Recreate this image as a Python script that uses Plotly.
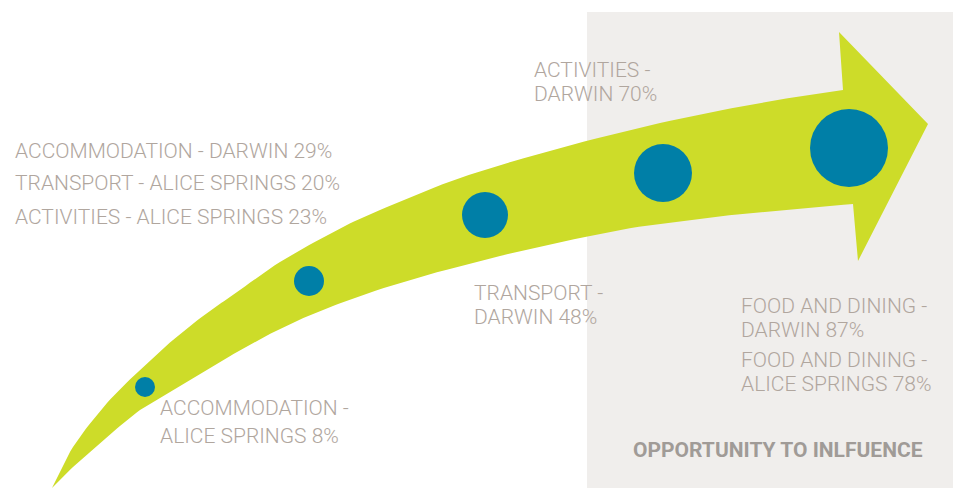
import numpy as np
import plotly.graph_objects as go

# ---- data ----
stage_x = [145, 309, 485, 663, 849]
stage_y = [387, 281, 215, 173, 148]
stage_size = [20, 30, 46, 58, 78]

label_lines = [
    "ACCOMMODATION - DARWIN 29%",
    "TRANSPORT - ALICE SPRINGS 20%",
    "ACTIVITIES - ALICE SPRINGS 23%",
    "ACCOMMODATION -",
    "ALICE SPRINGS 8%",
    "TRANSPORT -",
    "DARWIN 48%",
    "ACTIVITIES -",
    "DARWIN 70%",
    "FOOD AND DINING -",
    "DARWIN 87%",
    "FOOD AND DINING -",
    "ALICE SPRINGS 78%",
]
label_x = [13, 13, 13, 158, 158, 472, 472, 532, 532, 739, 739, 739, 739]
label_y = [151, 183, 217, 408, 436, 293, 317, 70, 94, 306, 330, 360, 384]

zone_label = "OPPORTUNITY TO INLFUENCE"

# ---- arrow geometry (decorative) ----
upper_edge = [(52, 488), (73, 447), (107, 403), (140, 370), (173, 340), (207, 313),
              (233, 295), (280, 262), (337, 230), (380, 210), (460, 178), (553, 150),
              (660, 123), (760, 103), (843, 90)]
lower_edge = [(52, 488), (73, 467), (107, 437), (140, 410), (173, 390), (207, 370),
              (237, 352), (280, 329), (330, 307), (400, 283), (500, 256), (620, 230),
              (700, 219), (760, 212), (853, 204)]
head = [(839, 32), (928, 124), (858, 261)]


def catmull(pts, n=10):
    p = np.array(pts, dtype=float)
    p = np.vstack([p[0] * 2 - p[1], p, p[-1] * 2 - p[-2]])
    out = []
    for i in range(1, len(p) - 2):
        p0, p1, p2, p3 = p[i - 1], p[i], p[i + 1], p[i + 2]
        for t in np.linspace(0, 1, n, endpoint=False):
            t2, t3 = t * t, t * t * t
            pt = 0.5 * ((2 * p1) + (-p0 + p2) * t + (2 * p0 - 5 * p1 + 4 * p2 - p3) * t2
                        + (-p0 + 3 * p1 - 3 * p2 + p3) * t3)
            out.append(pt)
    out.append(p[-2])
    return np.array(out)


up = catmull(upper_edge)
lo = catmull(lower_edge)[::-1]
poly = np.vstack([up, np.array(head, dtype=float), lo])

fig = go.Figure()

fig.add_shape(type="rect", x0=587, x1=953, y0=12, y1=488,
              fillcolor="#f0eeec", line=dict(width=0), layer="below")

fig.add_trace(go.Scatter(x=poly[:, 0], y=poly[:, 1], mode="lines", fill="toself",
                         fillcolor="#cddc29", line=dict(width=0, color="#cddc29"),
                         hoverinfo="skip", showlegend=False))

fig.add_trace(go.Scatter(x=stage_x, y=stage_y, mode="markers",
                         marker=dict(size=stage_size, color="#007fa7", opacity=1,
                                     line=dict(width=0)),
                         hoverinfo="skip", showlegend=False))

for t, x, y in zip(label_lines, label_x, label_y):
    fig.add_annotation(x=x, y=y, text=t, showarrow=False, xanchor="left", yanchor="middle",
                       font=dict(family="Roboto", size=21, color="#b0a69e", weight=300))

fig.add_annotation(x=631, y=450, text=zone_label, showarrow=False, xanchor="left",
                   yanchor="middle",
                   font=dict(family="Roboto", size=21, color="#a09b97", weight=700))

fig.update_layout(
    width=953, height=488,
    margin=dict(l=0, r=0, t=0, b=0),
    paper_bgcolor="white", plot_bgcolor="white",
    xaxis=dict(range=[0, 953], visible=False, fixedrange=True),
    yaxis=dict(range=[488, 0], visible=False, fixedrange=True),
)

fig.write_html("out.html")
